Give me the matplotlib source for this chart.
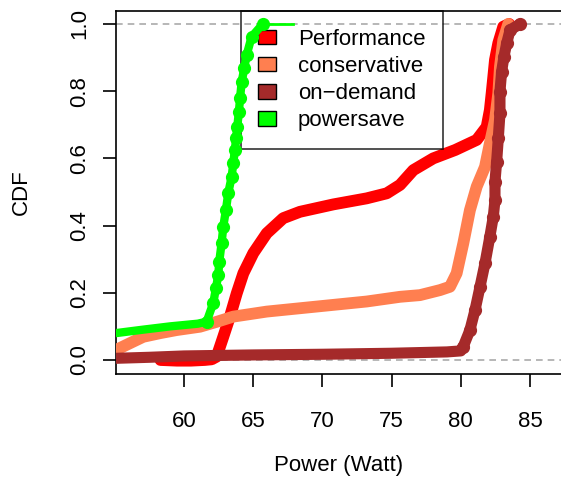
import matplotlib
matplotlib.use("Agg")
import matplotlib.pyplot as plt
from matplotlib.patches import Patch

plt.rcParams['font.family'] = ['Liberation Sans', 'DejaVu Sans']

labels = ['Performance', 'conservative', 'on\u2212demand', 'powersave']
colors = ['#FF0000', '#FF7F50', '#A52A2A', '#00FF00']

# power (W) and CDF values
perf_x = [58.3, 59.5, 60.5, 61.5, 62.0, 62.36, 62.84, 63.32, 63.81, 64.29, 65.01, 65.98,
          67.17, 68.38, 70.79, 73.2, 74.65, 75.61, 76.57, 78.01, 79.6, 81.15, 81.87,
          82.1, 82.23, 82.35, 82.47, 82.71, 83.07, 83.5]
perf_y = [0.0, -0.002, -0.002, 0.0, 0.002, 0.01, 0.069, 0.129, 0.198, 0.258, 0.318, 0.377,
          0.422, 0.441, 0.463, 0.481, 0.496, 0.521, 0.565, 0.6, 0.625, 0.655, 0.694,
          0.744, 0.794, 0.843, 0.893, 0.943, 0.992, 1.0]

cons_x = [55.1, 56.1, 57.06, 58.3, 59.47, 61.16, 62.4, 63.56, 65.98, 69.59, 73.2, 75.61,
          77.05, 78.5, 79.22, 79.7, 80.18, 80.66, 81.15, 81.75, 82.1, 82.47, 82.71,
          82.83, 83.07, 83.43]
cons_y = [0.03, 0.05, 0.069, 0.08, 0.089, 0.099, 0.114, 0.129, 0.144, 0.159, 0.174, 0.188,
          0.193, 0.208, 0.218, 0.258, 0.347, 0.446, 0.516, 0.575, 0.645, 0.714, 0.794,
          0.873, 0.952, 1.0]

ond_x = [55.1, 57.5, 60.0, 65.0, 70.0, 75.0, 79.0, 80.0, 80.18, 80.66, 81.03, 81.39,
         81.75, 82.1, 82.35, 82.47, 82.47, 82.59, 82.71, 82.83, 82.83, 82.95, 83.12,
         83.32, 83.56, 84.28]
ond_y = [0.005, 0.008, 0.012, 0.015, 0.017, 0.02, 0.024, 0.027, 0.04, 0.089, 0.149, 0.218,
         0.288, 0.367, 0.427, 0.476, 0.531, 0.59, 0.66, 0.734, 0.799, 0.858, 0.903,
         0.943, 0.982, 1.0]

save_x = [55.1, 57.0, 59.0, 61.0, 61.64, 62.12, 62.31, 62.48, 62.55, 62.72, 62.84, 63.03,
          63.2, 63.45, 63.56, 63.68, 63.76, 63.85, 63.97, 64.05, 64.17, 64.36, 64.53,
          64.89, 65.7, 67.9]
save_y = [0.08, 0.09, 0.1, 0.108, 0.114, 0.17, 0.214, 0.253, 0.293, 0.348, 0.397, 0.446,
          0.497, 0.546, 0.586, 0.625, 0.66, 0.694, 0.739, 0.779, 0.828, 0.869, 0.908,
          0.962, 1.0, 1.0]

fig = plt.figure(figsize=(5.61, 4.83), dpi=100)
ax = fig.add_axes([0.2068, 0.2257, 0.7932, 0.7516])

ax.axhline(0, color='#AAAAAA', linestyle=(0, (4, 3)), linewidth=1.2, zorder=1)
ax.axhline(1, color='#AAAAAA', linestyle=(0, (4, 3)), linewidth=1.2, zorder=1)

ax.plot(perf_x, perf_y, color=colors[0], linewidth=8.5, solid_capstyle='round',
        solid_joinstyle='round', zorder=2)
ax.plot(cons_x, cons_y, color=colors[1], linewidth=8.5, solid_capstyle='round',
        solid_joinstyle='round', zorder=4)

# on-demand: thick band, separate dots along the steep rise
ax.plot(ond_x, ond_y, color=colors[2], linewidth=8, solid_capstyle='round',
        solid_joinstyle='round', zorder=5)
ax.plot(ond_x[8:], ond_y[8:], color=colors[2], linestyle='none', marker='o',
        markersize=9.5, markeredgewidth=0, zorder=5)

# powersave: thick band up to the top, thin tail at CDF 1
ax.plot(save_x[:-1], save_y[:-1], color=colors[3], linewidth=6, solid_capstyle='round',
        solid_joinstyle='round', zorder=7)
ax.plot(save_x[4:-1], save_y[4:-1], color=colors[3], linestyle='none', marker='o',
        markersize=9.5, markeredgewidth=0, zorder=7)
ax.plot(save_x[-2:], save_y[-2:], color=colors[3], linewidth=2, zorder=7)

ax.set_xlim(55.09, 87.24)
ax.set_ylim(-0.0417, 1.0387)
ax.set_xticks([60, 65, 70, 75, 80, 85])
ax.set_yticks([0.0, 0.2, 0.4, 0.6, 0.8, 1.0])
ax.set_yticklabels(['0.0', '0.2', '0.4', '0.6', '0.8', '1.0'], rotation=90, va='center')

for s in ax.spines.values():
    s.set_linewidth(1.2)
ax.spines['right'].set_visible(False)
ax.tick_params(axis='both', labelsize=16, length=9.5, width=1.2, direction='out')
ax.tick_params(axis='x', pad=17)
ax.tick_params(axis='y', pad=9)

ax.set_xlabel('Power (Watt)', fontsize=16, labelpad=17)
ax.set_ylabel('CDF', fontsize=16, labelpad=27)

handles = [Patch(facecolor=c, edgecolor='black', linewidth=1) for c in colors]
leg = ax.legend(handles, labels, loc='upper left', bbox_to_anchor=(0.2802, 1.0),
                fontsize=16, frameon=True, fancybox=False, facecolor='none',
                edgecolor='black', borderpad=0.8, borderaxespad=0,
                handlelength=0.77, handleheight=0.63, handletextpad=1.0,
                labelspacing=0.28)
leg.get_frame().set_linewidth(1.2)
leg.set_zorder(6)

fig.savefig('out.png', dpi=100)
